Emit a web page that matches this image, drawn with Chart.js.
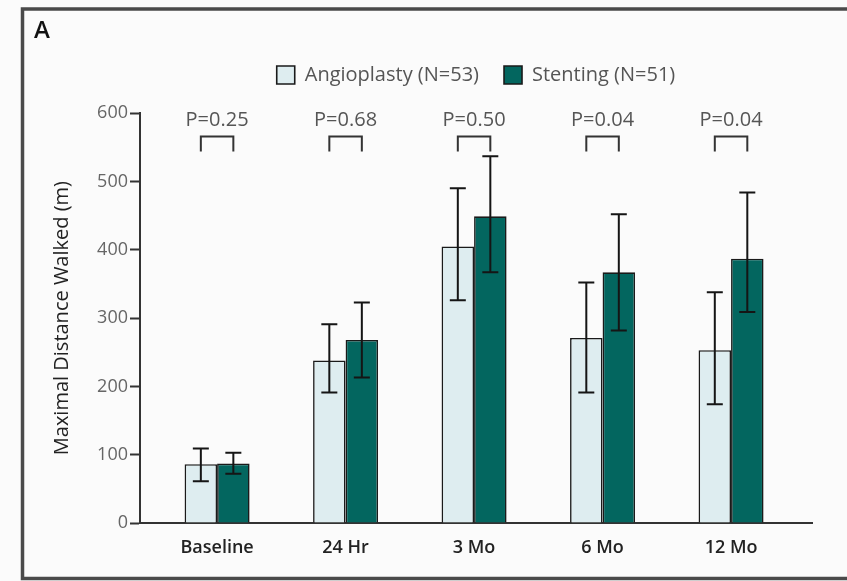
<!DOCTYPE html>
<html>
<head>
<meta charset="utf-8">
<script src="https://cdn.jsdelivr.net/npm/chart.js@4/dist/chart.umd.min.js"></script>
<style>
  html, body { margin: 0; padding: 0; background: #fbfbfb; }
  #wrap { width: 847px; height: 581px; }
</style>
</head>
<body>
<div id="wrap"><canvas id="c" width="847" height="581"></canvas></div>
<script>
// ---- data ----
const categories = ['Baseline', '24 Hr', '3 Mo', '6 Mo', '12 Mo'];
const seriesNames = ['Angioplasty (N=53)', 'Stenting (N=51)'];
const angioplastyMean = [86, 238, 405, 271, 253];
const angioplastyLow  = [61, 191, 326, 191, 174];
const angioplastyHigh = [109, 291, 490, 352, 338];
const stentingMean = [87, 268, 449, 367, 387];
const stentingLow  = [72, 213, 367, 282, 309];
const stentingHigh = [103, 323, 537, 452, 484];
const pValues = ['P=0.25', 'P=0.68', 'P=0.50', 'P=0.04', 'P=0.04'];
const yTicks = [0, 100, 200, 300, 400, 500, 600];

const lows = [angioplastyLow, stentingLow];
const highs = [angioplastyHigh, stentingHigh];

Chart.defaults.font.family = "'Open Sans', sans-serif";

const framePlugin = {
  id: 'frame',
  beforeDraw(chart) {
    const ctx = chart.ctx;
    ctx.save();
    ctx.fillStyle = '#fbfbfb';
    ctx.fillRect(0, 0, chart.width, chart.height);
    ctx.strokeStyle = '#4a4a4a';
    ctx.lineWidth = 3.5;
    ctx.beginPath();
    ctx.moveTo(chart.width + 5, 9);
    ctx.lineTo(22.5, 9);
    ctx.lineTo(22.5, 578.5);
    ctx.lineTo(chart.width + 5, 578.5);
    ctx.stroke();
    ctx.fillStyle = '#111';
    ctx.font = "600 24px 'Open Sans', sans-serif";
    ctx.textAlign = 'center';
    ctx.textBaseline = 'middle';
    ctx.fillText('A', 42, 31);
    ctx.restore();
  }
};

const errorBarPlugin = {
  id: 'errorBars',
  afterDatasetsDraw(chart) {
    const ctx = chart.ctx;
    const y = chart.scales.y;
    ctx.save();
    ctx.strokeStyle = '#151515';
    ctx.lineWidth = 2;
    chart.data.datasets.forEach((ds, di) => {
      const meta = chart.getDatasetMeta(di);
      meta.data.forEach((el, j) => {
        const yh = y.getPixelForValue(highs[di][j]);
        const yl = y.getPixelForValue(lows[di][j]);
        const cap = 8;
        ctx.beginPath();
        ctx.moveTo(el.x, yh); ctx.lineTo(el.x, yl);
        ctx.moveTo(el.x - cap, yh); ctx.lineTo(el.x + cap, yh);
        ctx.moveTo(el.x - cap, yl); ctx.lineTo(el.x + cap, yl);
        ctx.stroke();
      });
    });
    // P-value brackets
    const m0 = chart.getDatasetMeta(0), m1 = chart.getDatasetMeta(1);
    const topY = y.getPixelForValue(566);
    const botY = y.getPixelForValue(544);
    const txtY = y.getPixelForValue(590);
    ctx.strokeStyle = '#333';
    ctx.lineWidth = 2;
    ctx.fillStyle = '#555';
    ctx.font = "20px 'Open Sans', sans-serif";
    ctx.textAlign = 'center';
    ctx.textBaseline = 'middle';
    pValues.forEach((p, j) => {
      const x1 = m0.data[j].x, x2 = m1.data[j].x;
      ctx.beginPath();
      ctx.moveTo(x1, botY); ctx.lineTo(x1, topY); ctx.lineTo(x2, topY); ctx.lineTo(x2, botY);
      ctx.stroke();
      ctx.fillText(p, (x1 + x2) / 2, txtY);
    });
    ctx.restore();
  }
};

new Chart(document.getElementById('c'), {
  type: 'bar',
  data: {
    datasets: [
      {
        label: seriesNames[0],
        data: angioplastyMean.map((v, i) => ({ x: i, y: v })),
        backgroundColor: '#deedf0',
        borderColor: '#1a1a1a',
        borderWidth: 1.6,
        categoryPercentage: 0.506,
        barPercentage: 1
      },
      {
        label: seriesNames[1],
        data: stentingMean.map((v, i) => ({ x: i, y: v })),
        backgroundColor: '#03665f',
        borderColor: '#1a1a1a',
        borderWidth: 1.6,
        categoryPercentage: 0.506,
        barPercentage: 1
      }
    ]
  },
  options: {
    responsive: false,
    devicePixelRatio: 1,
    animation: false,
    layout: { padding: { left: 40, right: 35, top: 40, bottom: 0 } },
    plugins: {
      tooltip: { enabled: false },
      legend: {
        position: 'top',
        fullSize: false,
        labels: {
          boxWidth: 18,
          boxHeight: 18,
          padding: 25,
          color: '#555',
          font: { size: 20 }
        }
      },
      subtitle: {
        display: true,
        text: '',
        position: 'top',
        weight: 500,
        fullSize: false,
        font: { size: 1 },
        padding: { top: 0, bottom: 17 }
      }
    },
    scales: {
      x: {
        type: 'linear',
        min: -0.6,
        max: 4.63,
        offset: false,
        grid: { display: true, drawOnChartArea: false, drawTicks: false },
        border: { display: true, color: '#333', width: 2 },
        ticks: {
          stepSize: 1,
          includeBounds: false,
          autoSkip: false,
          maxRotation: 0,
          padding: 14,
          color: '#222',
          font: { size: 18, weight: '600' },
          callback: (v) => (Number.isInteger(v) && v >= 0 && v < categories.length) ? categories[v] : ''
        },
        afterFit(scale) { scale.height = 58; }
      },
      y: {
        min: 0,
        max: 600,
        grid: { drawOnChartArea: false, drawTicks: true, tickLength: 10, tickColor: '#333', tickWidth: 2 },
        border: { display: true, color: '#333', width: 2 },
        ticks: {
          stepSize: 100,
          padding: 2,
          color: '#666',
          font: { size: 18 }
        },
        afterBuildTicks(scale) { scale.ticks = yTicks.map(v => ({ value: v })); },
        title: {
          display: true,
          text: 'Maximal Distance Walked (m)',
          color: '#222',
          font: { size: 20 },
          padding: { top: 10, bottom: 0 }
        },
        afterFit(scale) { scale.width = 100; }
      }
    }
  },
  plugins: [framePlugin, errorBarPlugin]
});
</script>
</body>
</html>
